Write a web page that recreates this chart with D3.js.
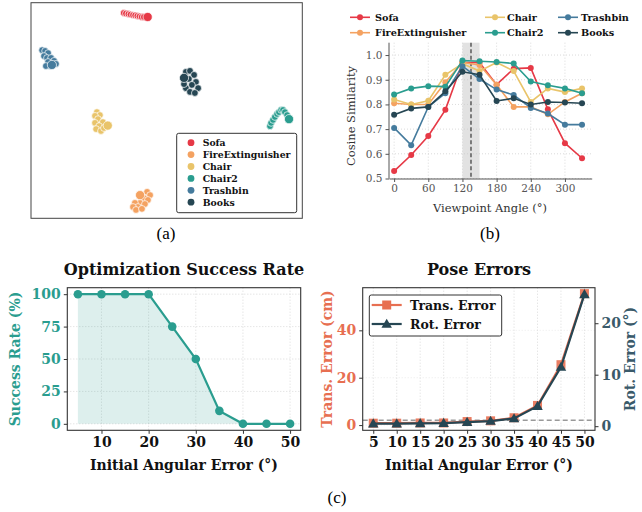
<!DOCTYPE html>
<html>
<head>
<meta charset="utf-8">
<script src="https://cdn.jsdelivr.net/npm/d3@7"></script>
<style>
body { margin: 0; background: #fff; }
text { font-family: "DejaVu Serif", serif; }
</style>
</head>
<body>
<script>
var w = 642, h = 512;

// ---- data ----
var objects = ["Sofa", "FireExtinguisher", "Chair", "Chair2", "Trashbin", "Books"];
var objColors = ["#e63946", "#f4a261", "#e9c46a", "#2a9d8f", "#457b9d", "#264653"];

// (a) 2-D embedding of the views, last point of each list is the reference view
var embSofa = [[-15.8,36.2],[-15.0,36.0],[-14.1,35.8],[-13.3,35.6],[-12.4,35.4],[-11.6,35.3],[-10.8,35.1],[-10.0,34.9],[-9.2,34.7],[-8.4,34.7],[-7.0,34.7]];
var embFire = [[-7.2,-30.2],[-6.1,-31.4],[-8.3,-32.5],[-6.9,-33.2],[-9.8,-34.3],[-8.0,-34.7],[-11.7,-34.3],[-10.6,-35.8],[-12.4,-35.8],[-11.3,-36.9],[-9.1,-36.5],[-9.8,-31.4]];
var embChair = [[-25.7,-0.6],[-24.6,-1.7],[-26.4,-2.0],[-25.3,-3.2],[-26.4,-4.6],[-23.5,-4.3],[-24.9,-5.8],[-26.0,-6.9],[-24.2,-7.6],[-23.1,-6.5],[-21.7,-5.6]];
var embChair2 = [[38.1,-5.8],[38.5,-4.6],[39.2,-3.5],[39.9,-2.4],[40.7,-1.3],[41.4,-0.6],[42.2,0.2],[42.9,0.2],[43.6,-0.6],[44.4,-1.7],[45.1,-3.2]];
var embTrash = [[-45.9,22.4],[-44.8,22.1],[-43.7,21.3],[-45.2,20.2],[-44.1,19.5],[-42.6,19.5],[-41.5,18.4],[-43.7,18.0],[-40.8,17.3],[-43.0,16.5],[-44.5,16.5],[-42.3,16.9]];
var embBooks = [[7.1,14.3],[8.6,14.7],[10.1,13.2],[8.2,11.7],[10.8,10.6],[9.3,9.5],[11.6,8.3],[7.1,8.3],[8.6,6.9],[10.4,6.5],[6.4,9.8],[6.4,12.1]];
var embeddings = [embSofa, embFire, embChair, embChair2, embTrash, embBooks];

// (b) cosine similarity vs viewpoint
var angles = [0, 30, 60, 90, 120, 150, 180, 210, 240, 270, 300, 330];
var simSofa   = [0.530, 0.595, 0.672, 0.778, 0.970, 0.970, 0.880, 0.945, 0.948, 0.780, 0.643, 0.582];
var simFire   = [0.805, 0.800, 0.800, 0.890, 0.970, 0.960, 0.880, 0.790, 0.790, 0.760, 0.810, 0.845];
var simChair  = [0.820, 0.800, 0.815, 0.920, 0.965, 0.935, 0.970, 0.935, 0.810, 0.865, 0.850, 0.865];
var simChair2 = [0.840, 0.865, 0.874, 0.872, 0.978, 0.975, 0.972, 0.966, 0.893, 0.878, 0.865, 0.845];
var simTrash  = [0.705, 0.635, 0.790, 0.845, 0.955, 0.903, 0.860, 0.838, 0.786, 0.763, 0.718, 0.718];
var simBooks  = [0.758, 0.784, 0.790, 0.853, 0.932, 0.920, 0.814, 0.825, 0.800, 0.810, 0.808, 0.805];
var sims = [simSofa, simFire, simChair, simChair2, simTrash, simBooks];
var simTicksX = [0, 60, 120, 180, 240, 300];
var simTicksY = [0.5, 0.6, 0.7, 0.8, 0.9, 1.0];
var bestBand = [120, 150];
var bestAngle = 135;

// (c) optimisation
var angErr = [5, 10, 15, 20, 25, 30, 35, 40, 45, 50];
var successRate = [100, 100, 100, 100, 75, 50, 10, 0, 0, 0];
var transErr = [0.8, 0.8, 0.9, 0.9, 1.5, 1.8, 3.1, 8.3, 25.5, 55.5];
var rotErr = [0.5, 0.5, 0.55, 0.6, 0.8, 1.0, 1.5, 3.9, 11.5, 25.6];
var transThreshold = 2;
var successTicksY = [0, 25, 50, 75, 100];
var successTicksX = [10, 20, 30, 40, 50];
var transTicks = [0, 20, 40];
var rotTicks = [0, 10, 20];

var teal = "#2a9d8f", coral = "#e76f51", navy = "#264653";

var svg = d3.select("body").append("svg")
  .attr("width", w).attr("height", h)
  .style("background", "#fff");

// ================= (a) =================
var xA = d3.scaleLinear().domain([-50, 50]).range([31, 302.3]);
var yA = d3.scaleLinear().domain([-40, 40]).range([218.3, 2.7]);
var gA = svg.append("g");

embeddings.forEach(function(pts, k) {
  gA.selectAll(null)
    .data(pts)
    .enter()
    .append("circle")
    .attr("cx", function(d) { return xA(d[0]); })
    .attr("cy", function(d) { return yA(d[1]); })
    .attr("r", function(d, i) { return i == pts.length - 1 ? 4.6 : 3.4; })
    .attr("fill", objColors[k])
    .attr("stroke", "#fff")
    .attr("stroke-width", 0.7);
});

gA.append("rect")
  .attr("x", 31).attr("y", 2.7).attr("width", 271.3).attr("height", 215.6)
  .attr("fill", "none").attr("stroke", "#444").attr("stroke-width", 1);

var legA = gA.append("g");
legA.append("rect")
  .attr("x", 176.7).attr("y", 133.3).attr("width", 120).attr("height", 79.4)
  .attr("rx", 2).attr("fill", "#fff").attr("stroke", "#333").attr("stroke-width", 1);
objects.forEach(function(name, i) {
  var yy = 142.7 + i * 11.9;
  legA.append("circle").attr("cx", 191).attr("cy", yy).attr("r", 3.4).attr("fill", objColors[i]);
  legA.append("text").attr("x", 202.7).attr("y", yy + 3.3)
    .attr("font-size", "9.3px").attr("font-weight", "bold").attr("fill", "#111").text(name);
});

svg.append("text").attr("x", 166).attr("y", 239).attr("text-anchor", "middle")
  .style("font-family", "'Liberation Serif', serif").attr("font-size", "17px").text("(a)");

// ================= (b) =================
var xB = d3.scaleLinear().domain([-9, 347]).range([389, 591.7]);
var yB = d3.scaleLinear().domain([0.5, 1.05]).range([178.5, 42.7]);
var gB = svg.append("g");

gB.append("rect")
  .attr("x", xB(bestBand[0])).attr("y", 42.7)
  .attr("width", xB(bestBand[1]) - xB(bestBand[0])).attr("height", 178.5 - 42.7)
  .attr("fill", "#e2e2e2");

gB.selectAll(".gx").data(simTicksX).enter().append("line")
  .attr("x1", function(d) { return xB(d); }).attr("x2", function(d) { return xB(d); })
  .attr("y1", 42.7).attr("y2", 178.5)
  .attr("stroke", "#ccc").attr("stroke-width", 0.7).attr("stroke-dasharray", "1,2");
gB.selectAll(".gy").data(simTicksY).enter().append("line")
  .attr("x1", 389).attr("x2", 591.7)
  .attr("y1", function(d) { return yB(d); }).attr("y2", function(d) { return yB(d); })
  .attr("stroke", "#ccc").attr("stroke-width", 0.7).attr("stroke-dasharray", "1,2");

gB.append("line")
  .attr("x1", xB(bestAngle)).attr("x2", xB(bestAngle)).attr("y1", 42.7).attr("y2", 178.5)
  .attr("stroke", "#444").attr("stroke-width", 1.3).attr("stroke-dasharray", "4,2.5");

var lineB = d3.line()
  .x(function(d, i) { return xB(angles[i]); })
  .y(function(d) { return yB(d); });

sims.forEach(function(vals, k) {
  gB.append("path").attr("d", lineB(vals))
    .attr("fill", "none").attr("stroke", objColors[k]).attr("stroke-width", 1.6);
  gB.selectAll(null).data(vals).enter().append("circle")
    .attr("cx", function(d, i) { return xB(angles[i]); })
    .attr("cy", function(d) { return yB(d); })
    .attr("r", 3).attr("fill", objColors[k]);
});

var axBx = gB.append("g").attr("transform", "translate(0,178.5)")
  .call(d3.axisBottom(xB).tickValues(simTicksX).tickSize(3.5).tickSizeOuter(0).tickPadding(3));
var axBy = gB.append("g").attr("transform", "translate(389,0)")
  .call(d3.axisLeft(yB).tickValues(simTicksY).tickFormat(d3.format(".1f")).tickSize(3.5).tickSizeOuter(0).tickPadding(3));
[axBx, axBy].forEach(function(ax) {
  ax.select(".domain").attr("stroke", "#555").attr("stroke-width", 1);
  ax.selectAll(".tick line").attr("stroke", "#555");
  ax.selectAll("text").attr("font-family", "DejaVu Serif").attr("font-size", "10.5px").attr("fill", "#555");
});
axBy.select(".domain").attr("d", "M0,42.7V178.5");

gB.append("text").attr("transform", "translate(355,116) rotate(-90)")
  .attr("text-anchor", "middle").attr("font-size", "11.5px").attr("fill", "#333")
  .text("Cosine Similarity");
gB.append("text").attr("x", 490).attr("y", 212)
  .attr("text-anchor", "middle").attr("font-size", "11.5px").attr("fill", "#333")
  .text("Viewpoint Angle (°)");

var legColsLine = [350, 485, 558];
var legColsText = [375, 507, 581];
objects.forEach(function(name, i) {
  var col = Math.floor(i / 2), row = i % 2;
  var yy = 17.3 + row * 15.4;
  var x0 = legColsLine[col];
  gB.append("line").attr("x1", x0).attr("x2", x0 + 20).attr("y1", yy).attr("y2", yy)
    .attr("stroke", objColors[i]).attr("stroke-width", 1.6);
  gB.append("circle").attr("cx", x0 + 10).attr("cy", yy).attr("r", 3).attr("fill", objColors[i]);
  gB.append("text").attr("x", legColsText[col]).attr("y", yy + 3.4)
    .attr("font-size", "9.7px").attr("font-weight", "bold").attr("fill", "#111").text(name);
});

svg.append("text").attr("x", 490).attr("y", 239).attr("text-anchor", "middle")
  .style("font-family", "'Liberation Serif', serif").attr("font-size", "17px").text("(b)");

// ================= (c) left =================
var xC = d3.scaleLinear().domain([2.75, 52.25]).range([67.3, 300.7]);
var yC = d3.scaleLinear().domain([-5, 105]).range([430.3, 287.7]);
var gC = svg.append("g");

gC.selectAll(".gx").data(successTicksX).enter().append("line")
  .attr("x1", function(d) { return xC(d); }).attr("x2", function(d) { return xC(d); })
  .attr("y1", 287.7).attr("y2", 430.3)
  .attr("stroke", "#ccc").attr("stroke-width", 0.7).attr("stroke-dasharray", "1,2");
gC.selectAll(".gy").data(successTicksY).enter().append("line")
  .attr("x1", 67.3).attr("x2", 300.7)
  .attr("y1", function(d) { return yC(d); }).attr("y2", function(d) { return yC(d); })
  .attr("stroke", "#ccc").attr("stroke-width", 0.7).attr("stroke-dasharray", "1,2");

var areaC = d3.area()
  .x(function(d, i) { return xC(angErr[i]); })
  .y0(yC(0))
  .y1(function(d) { return yC(d); });
gC.append("path").attr("d", areaC(successRate)).attr("fill", teal).attr("fill-opacity", 0.16);

var lineC = d3.line()
  .x(function(d, i) { return xC(angErr[i]); })
  .y(function(d) { return yC(d); });
gC.append("path").attr("d", lineC(successRate))
  .attr("fill", "none").attr("stroke", teal).attr("stroke-width", 2.2);
gC.selectAll(null).data(successRate).enter().append("circle")
  .attr("cx", function(d, i) { return xC(angErr[i]); })
  .attr("cy", function(d) { return yC(d); })
  .attr("r", 4.3).attr("fill", teal);

gC.append("rect").attr("x", 67.3).attr("y", 287.7).attr("width", 233.4).attr("height", 142.6)
  .attr("fill", "none").attr("stroke", "#333").attr("stroke-width", 1.1);

var axCx = gC.append("g").attr("transform", "translate(0,430.3)")
  .call(d3.axisBottom(xC).tickValues(successTicksX).tickSize(3.5).tickSizeOuter(0).tickPadding(3));
var axCy = gC.append("g").attr("transform", "translate(67.3,0)")
  .call(d3.axisLeft(yC).tickValues(successTicksY).tickSize(3.5).tickSizeOuter(0).tickPadding(3));
axCx.selectAll("text").attr("fill", "#111");
axCy.selectAll("text").attr("fill", teal);
[axCx, axCy].forEach(function(ax) {
  ax.select(".domain").remove();
  ax.selectAll(".tick line").attr("stroke", "#333");
  ax.selectAll("text").attr("font-family", "DejaVu Serif").attr("font-size", "14px").attr("font-weight", "bold");
});

gC.append("text").attr("x", 184).attr("y", 275).attr("text-anchor", "middle")
  .attr("font-size", "16px").attr("font-weight", "bold").attr("fill", "#111")
  .text("Optimization Success Rate");
gC.append("text").attr("x", 184).attr("y", 470).attr("text-anchor", "middle")
  .attr("font-size", "14px").attr("font-weight", "bold").attr("fill", "#111")
  .text("Initial Angular Error (°)");
gC.append("text").attr("transform", "translate(20,359) rotate(-90)")
  .attr("text-anchor", "middle").attr("font-size", "14px").attr("font-weight", "bold").attr("fill", teal)
  .text("Success Rate (%)");

// ================= (c) right =================
var xD = d3.scaleLinear().domain([-0.45, 9.45]).range([362.7, 595]);
var yT = d3.scaleLinear().domain([-2.2, 58]).range([430.3, 287.7]);
var yR = d3.scaleLinear().domain([-0.8, 26.9]).range([430.3, 287.7]);
var gD = svg.append("g");

gD.selectAll(".gx").data(angErr).enter().append("line")
  .attr("x1", function(d, i) { return xD(i); }).attr("x2", function(d, i) { return xD(i); })
  .attr("y1", 287.7).attr("y2", 430.3)
  .attr("stroke", "#ccc").attr("stroke-width", 0.7).attr("stroke-dasharray", "1,2");
gD.selectAll(".gy").data(transTicks).enter().append("line")
  .attr("x1", 362.7).attr("x2", 595)
  .attr("y1", function(d) { return yT(d); }).attr("y2", function(d) { return yT(d); })
  .attr("stroke", "#ddd").attr("stroke-width", 0.6).attr("stroke-dasharray", "1,2");

gD.append("line").attr("x1", 362.7).attr("x2", 595)
  .attr("y1", yT(transThreshold)).attr("y2", yT(transThreshold))
  .attr("stroke", "#999").attr("stroke-width", 1.5).attr("stroke-dasharray", "5,3");

var lineT = d3.line()
  .x(function(d, i) { return xD(i); })
  .y(function(d) { return yT(d); });
var lineR = d3.line()
  .x(function(d, i) { return xD(i); })
  .y(function(d) { return yR(d); });

gD.append("path").attr("d", lineT(transErr))
  .attr("fill", "none").attr("stroke", coral).attr("stroke-width", 2.2);
gD.selectAll(null).data(transErr).enter().append("rect")
  .attr("x", function(d, i) { return xD(i) - 4.5; })
  .attr("y", function(d) { return yT(d) - 4.5; })
  .attr("width", 9).attr("height", 9).attr("fill", coral).attr("fill-opacity", 0.9);

gD.append("path").attr("d", lineR(rotErr))
  .attr("fill", "none").attr("stroke", navy).attr("stroke-width", 2.2);
var tri = d3.symbol().type(d3.symbolTriangle).size(48);
gD.selectAll(null).data(rotErr).enter().append("path")
  .attr("d", tri)
  .attr("transform", function(d, i) { return "translate(" + xD(i) + "," + (yR(d) + 0.8) + ")"; })
  .attr("fill", navy);

gD.append("rect").attr("x", 362.7).attr("y", 287.7).attr("width", 232.3).attr("height", 142.6)
  .attr("fill", "none").attr("stroke", "#333").attr("stroke-width", 1.1);

var axDx = gD.append("g").attr("transform", "translate(0,430.3)")
  .call(d3.axisBottom(xD).tickValues(d3.range(angErr.length))
    .tickFormat(function(i) { return angErr[i]; }).tickSize(3.5).tickSizeOuter(0).tickPadding(3));
var axDl = gD.append("g").attr("transform", "translate(362.7,0)")
  .call(d3.axisLeft(yT).tickValues(transTicks).tickSize(3.5).tickSizeOuter(0).tickPadding(3));
var axDr = gD.append("g").attr("transform", "translate(595,0)")
  .call(d3.axisRight(yR).tickValues(rotTicks).tickSize(3.5).tickSizeOuter(0).tickPadding(3));
axDx.selectAll("text").attr("fill", "#111");
axDl.selectAll("text").attr("fill", coral);
axDr.selectAll("text").attr("fill", "#3a5a6a");
[axDx, axDl, axDr].forEach(function(ax) {
  ax.select(".domain").remove();
  ax.selectAll(".tick line").attr("stroke", "#333");
  ax.selectAll("text").attr("font-family", "DejaVu Serif").attr("font-size", "14px").attr("font-weight", "bold");
});

gD.append("text").attr("x", 479).attr("y", 275).attr("text-anchor", "middle")
  .attr("font-size", "16px").attr("font-weight", "bold").attr("fill", "#111")
  .text("Pose Errors");
gD.append("text").attr("x", 479).attr("y", 470).attr("text-anchor", "middle")
  .attr("font-size", "14px").attr("font-weight", "bold").attr("fill", "#111")
  .text("Initial Angular Error (°)");
gD.append("text").attr("transform", "translate(332,359) rotate(-90)")
  .attr("text-anchor", "middle").attr("font-size", "14px").attr("font-weight", "bold").attr("fill", coral)
  .text("Trans. Error (cm)");
gD.append("text").attr("transform", "translate(635,359) rotate(-90)")
  .attr("text-anchor", "middle").attr("font-size", "14px").attr("font-weight", "bold").attr("fill", "#3a5a6a")
  .text("Rot. Error (°)");

// legend
var legD = gD.append("g");
legD.append("rect").attr("x", 369.3).attr("y", 295).attr("width", 132.4).attr("height", 41)
  .attr("rx", 2).attr("fill", "#fff").attr("stroke", "#333").attr("stroke-width", 1);
legD.append("line").attr("x1", 371.7).attr("x2", 401.7).attr("y1", 305).attr("y2", 305)
  .attr("stroke", coral).attr("stroke-width", 2.2);
legD.append("rect").attr("x", 382.2).attr("y", 300.5).attr("width", 9).attr("height", 9).attr("fill", coral);
legD.append("line").attr("x1", 371.7).attr("x2", 401.7).attr("y1", 324).attr("y2", 324)
  .attr("stroke", navy).attr("stroke-width", 2.2);
legD.append("path").attr("d", tri).attr("transform", "translate(386.7,324.8)").attr("fill", navy);
legD.append("text").attr("x", 410).attr("y", 309.5).attr("font-size", "12.5px").attr("font-weight", "bold")
  .attr("fill", "#111").text("Trans. Error");
legD.append("text").attr("x", 410).attr("y", 328.5).attr("font-size", "12.5px").attr("font-weight", "bold")
  .attr("fill", "#111").text("Rot. Error");

svg.append("text").attr("x", 337).attr("y", 503).attr("text-anchor", "middle")
  .style("font-family", "'Liberation Serif', serif").attr("font-size", "17px").text("(c)");
</script>
</body>
</html>
